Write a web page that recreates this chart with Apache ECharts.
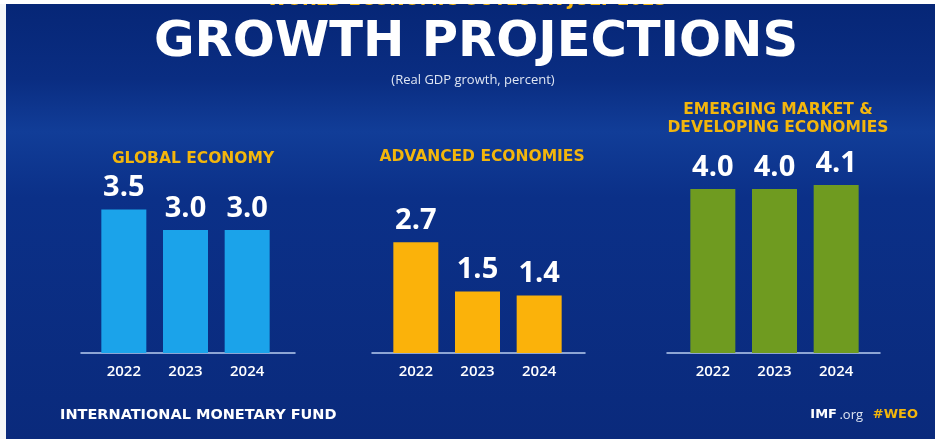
<!DOCTYPE html>
<html>
<head>
<meta charset="utf-8">
<script src="https://cdn.jsdelivr.net/npm/echarts@6/dist/echarts.min.js"></script>
<style>
html,body{margin:0;padding:0;background:#fff;}
#chart{position:absolute;left:0;top:0;width:935px;height:439px;}
#wl{position:absolute;left:0;top:0;width:6px;height:439px;background:#f4f6f8;}
#wt{position:absolute;left:0;top:0;width:935px;height:4px;background:#fff;}
</style>
</head>
<body>
<div id="chart"></div>
<div id="wl"></div>
<div id="wt"></div>
<script>
const years = ['2022', '2023', '2024'];
const panelTitles = ['GLOBAL ECONOMY', 'ADVANCED ECONOMIES', 'EMERGING MARKET &\nDEVELOPING ECONOMIES'];
const globalEconomy = [3.5, 3.0, 3.0];
const advancedEconomies = [2.7, 1.5, 1.4];
const emergingDeveloping = [4.0, 4.0, 4.1];
const panelColors = ['#1ba3ea', '#fbb20a', '#6f9b20'];

const panelData = [globalEconomy, advancedEconomies, emergingDeveloping];
const barGrids = [
  {left: 93, width: 185, top: 107, height: 246},
  {left: 385, width: 185, top: 107, height: 246},
  {left: 682, width: 185, top: 107, height: 246}
];
const lineGrids = [
  {left: 81, width: 214, top: 107, height: 246},
  {left: 372, width: 213, top: 107, height: 246},
  {left: 667, width: 213, top: 107, height: 246}
];

const chart = echarts.init(document.getElementById('chart'));
const grid = [], xAxis = [], yAxis = [], series = [];
barGrids.forEach((g, i) => {
  grid.push(g);
  xAxis.push({
    type: 'category', gridIndex: i, data: years,
    axisLine: {show: false}, axisTick: {show: false},
    axisLabel: {color: '#ffffff', fontSize: 15, fontWeight: 600, fontFamily: 'Open Sans', margin: 11}
  });
  yAxis.push({type: 'value', gridIndex: i, min: 0, max: 6, show: false});
  series.push({
    type: 'bar', xAxisIndex: i, yAxisIndex: i, data: panelData[i], barWidth: 45,
    itemStyle: {color: panelColors[i]},
    label: {show: true, position: 'top', distance: 7, color: '#ffffff', fontSize: 29, fontWeight: 'bold', fontFamily: 'Open Sans', formatter: p => p.value.toFixed(1)}
  });
});
lineGrids.forEach((g, i) => {
  grid.push(g);
  xAxis.push({
    type: 'value', gridIndex: 3 + i, min: 0, max: 1,
    axisLine: {show: true, lineStyle: {color: '#b9cdf0', width: 1.5}},
    axisTick: {show: false}, axisLabel: {show: false}, splitLine: {show: false}
  });
  yAxis.push({type: 'value', gridIndex: 3 + i, min: 0, max: 6, show: false});
});

const yellow = '#f3b60c';
const graphic = [
  {type: 'text', style: {text: 'WORLD ECONOMIC OUTLOOK JULY 2023', x: 467, y: 0, textAlign: 'center', textVerticalAlign: 'middle', fill: yellow, font: 'bold 18px "DejaVu Sans"'}},
  {type: 'text', style: {text: 'GROWTH PROJECTIONS', x: 476, y: 43, textAlign: 'center', textVerticalAlign: 'middle', fill: '#ffffff', font: 'bold 49.5px "DejaVu Sans"'}},
  {type: 'text', style: {text: '(Real GDP growth, percent)', x: 473, y: 80, textAlign: 'center', textVerticalAlign: 'middle', fill: '#dfe6f3', font: '13px "Open Sans"'}},
  {type: 'text', style: {text: panelTitles[0], x: 193, y: 159, textAlign: 'center', textVerticalAlign: 'middle', fill: yellow, font: 'bold 15.5px "DejaVu Sans"'}},
  {type: 'text', style: {text: panelTitles[1], x: 482, y: 157, textAlign: 'center', textVerticalAlign: 'middle', fill: yellow, font: 'bold 15.5px "DejaVu Sans"'}},
  {type: 'text', style: {text: panelTitles[2], x: 778, y: 119, textAlign: 'center', textVerticalAlign: 'middle', fill: yellow, font: 'bold 15.5px "DejaVu Sans"', lineHeight: 18}},
  {type: 'text', style: {text: 'INTERNATIONAL MONETARY FUND', x: 60, y: 415, textAlign: 'left', textVerticalAlign: 'middle', fill: '#ffffff', font: 'bold 14.5px "DejaVu Sans"'}},
  {type: 'text', style: {text: '#WEO', x: 918, y: 415, textAlign: 'right', textVerticalAlign: 'middle', fill: yellow, font: 'bold 13px "DejaVu Sans"'}},
  {type: 'text', style: {text: '.org', x: 863, y: 415, textAlign: 'right', textVerticalAlign: 'middle', fill: '#dfe6f3', font: '13px "Open Sans"'}},
  {type: 'text', style: {text: 'IMF', x: 837, y: 415, textAlign: 'right', textVerticalAlign: 'middle', fill: '#ffffff', font: 'bold 13px "DejaVu Sans"'}}
];

chart.setOption({
  animation: false,
  backgroundColor: {
    type: 'linear', x: 0, y: 0, x2: 0, y2: 1,
    colorStops: [
      {offset: 0, color: '#062676'},
      {offset: 0.18, color: '#0a2d82'},
      {offset: 0.3, color: '#113d98'},
      {offset: 0.45, color: '#0b3088'},
      {offset: 1, color: '#0a2a7c'}
    ]
  },
  grid, xAxis, yAxis, series, graphic
});
</script>
</body>
</html>
